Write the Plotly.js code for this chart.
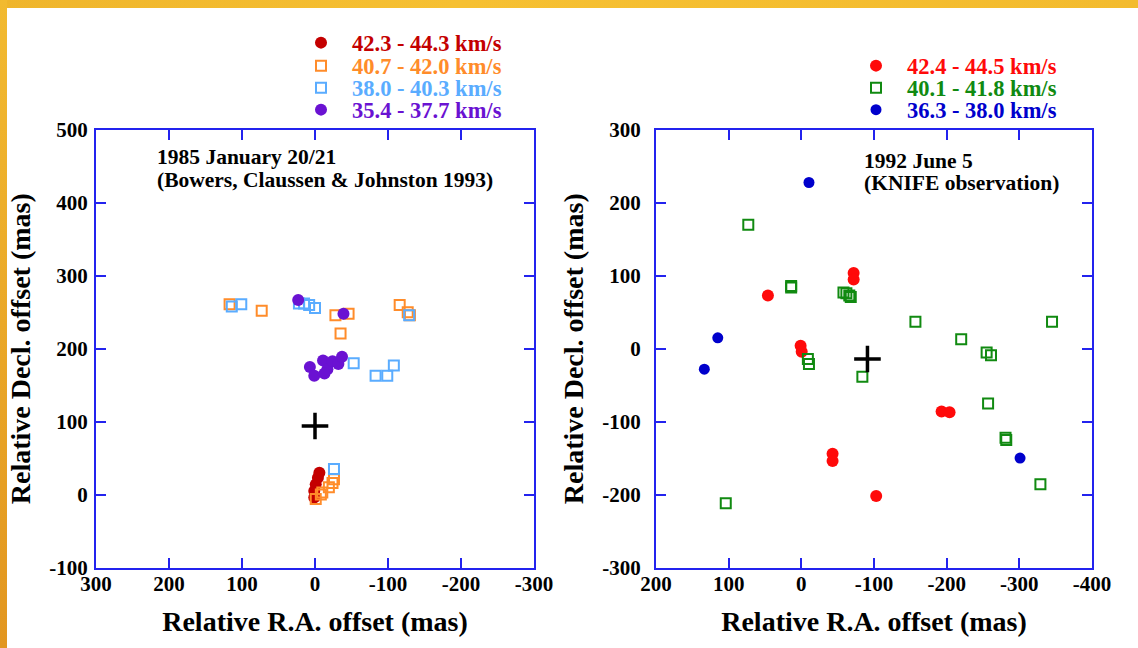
<!DOCTYPE html>
<html>
<head>
<meta charset="utf-8">
<script src="https://cdn.plot.ly/plotly-3.0.1.min.js"></script>
<style>
html,body{margin:0;padding:0;background:#fff;overflow:hidden;width:1138px;height:648px}
#topband{position:absolute;left:0;top:0;width:1138px;height:8px;background:linear-gradient(90deg,#efb52c,#f6c032 40%,#f3bb2e)}
#leftband{position:absolute;left:0;top:0;width:7px;height:648px;background:linear-gradient(180deg,#f2ba30,#e29620)}
#chart{position:absolute;left:0;top:0;width:1138px;height:648px}
</style>
</head>
<body>
<div id="topband"></div>
<div id="leftband"></div>
<div id="chart"></div>
<script>
// ---- 1985 January 20/21 (left panel) ----
const labels1985 = ["42.3 - 44.3 km/s", "40.7 - 42.0 km/s", "38.0 - 40.3 km/s", "35.4 - 37.7 km/s"];
const red1985X = [-6, -4, -1, 1, 1];
const red1985Y = [30, 23, 14, 5, -4];
const orange1985X = [117, 73, -28, -46, -35, -116, -127, -130, -1, -8, -10, -19, -24, -26];
const orange1985Y = [261, 252, 246, 248, 221, 260, 250, 246, -6, 0, 3, 10, 16, 21];
const blue1985X = [114, 101, 22, 15, 8, 0, -129, -53, -83, -99, -108, -26];
const blue1985Y = [258, 261, 262, 262, 260, 256, 246, 180, 163, 163, 177, 35];
const purple1985X = [23, -39, 7, 1, -11, -17, -13, -24, -32, -37];
const purple1985Y = [267, 248, 175, 163, 184, 172, 166, 183, 179, 189];
const center1985X = [0];
const center1985Y = [94];

// ---- 1992 June 5 (right panel) ----
const labels1992 = ["42.4 - 44.5 km/s", "40.1 - 41.8 km/s", "36.3 - 38.0 km/s"];
const red1992X = [46, -72, -72, 1, -0.5, -43, -43, -103, -193, -204];
const red1992Y = [73, 104, 95, 4, -4, -144, -154, -202, -86, -87];
const green1992X = [73, 14, 14, -58, -62, -66, -68, -9, -10.5, -84, -157, -220, -255, -261, -345, -257, -281, -282, -329, 104];
const green1992Y = [170, 86, 84, 77, 76, 73, 71, -14, -21, -38.5, 37, 13, -5, -9, 37, -75, -122, -125, -186, -212];
const blue1992X = [-10.5, 115, 133.5, -301];
const blue1992Y = [228, 15, -28, -150];
const center1992X = [-91];
const center1992Y = [-14];

const xTicks1985 = [300, 200, 100, 0, -100, -200, -300];
const yTicks1985 = [-100, 0, 100, 200, 300, 400, 500];
const xTicks1992 = [200, 100, 0, -100, -200, -300, -400];
const yTicks1992 = [-300, -200, -100, 0, 100, 200, 300];

const W = 1138, H = 648;
const SERIF = '"Liberation Serif", "Times New Roman", serif';
const frameColor = '#2323ee';
const colors = {
  red85: '#c40000', orange85: '#ff8c2a', blue85: '#5aacff', purple85: '#6a12d2',
  red92: '#ff0a0a', green92: '#118a11', blue92: '#0000cc'
};

function px(x) { return x / W; }
function py(y) { return 1 - y / H; }

function pts(x, y, name, color, symbol, size, xa, ya, legendId, lw) {
  return {
    type: 'scatter', mode: 'markers', x: x, y: y, name: name,
    xaxis: xa, yaxis: ya, legend: legendId, showlegend: true,
    marker: { color: color, symbol: symbol, size: size, line: { color: color, width: lw || 0 } },
    hoverinfo: 'x+y'
  };
}

const traces = [
  pts(red1985X, red1985Y, labels1985[0], colors.red85, 'circle', 12, 'x', 'y', 'legend'),
  pts(orange1985X, orange1985Y, labels1985[1], colors.orange85, 'square-open', 10, 'x', 'y', 'legend2', 2),
  pts(blue1985X, blue1985Y, labels1985[2], colors.blue85, 'square-open', 10, 'x', 'y', 'legend3', 2),
  pts(purple1985X, purple1985Y, labels1985[3], colors.purple85, 'circle', 12, 'x', 'y', 'legend4'),
  { type: 'scatter', mode: 'markers', x: center1985X, y: center1985Y, xaxis: 'x', yaxis: 'y', showlegend: false,
    marker: { symbol: 'cross-thin-open', size: 19, color: '#000', line: { color: '#000', width: 3.5 } }, hoverinfo: 'x+y' },
  pts(red1992X, red1992Y, labels1992[0], colors.red92, 'circle', 12, 'x2', 'y2', 'legend5'),
  pts(green1992X, green1992Y, labels1992[1], colors.green92, 'square-open', 10, 'x2', 'y2', 'legend6', 2),
  pts(blue1992X, blue1992Y, labels1992[2], colors.blue92, 'circle', 11, 'x2', 'y2', 'legend7'),
  { type: 'scatter', mode: 'markers', x: center1992X, y: center1992Y, xaxis: 'x2', yaxis: 'y2', showlegend: false,
    marker: { symbol: 'cross-thin-open', size: 19, color: '#000', line: { color: '#000', width: 3.5 } }, hoverinfo: 'x+y' }
];

const tickFont = { family: SERIF, size: 21, color: '#000', weight: 'bold' };
const titleFont = { family: SERIF, size: 28, color: '#000', weight: 'bold' };
const noteFont = { family: SERIF, size: 21.5, color: '#000', weight: 'bold' };

function axis(domain, range, ticks, anchor, titleText, standoff, labelStandoff) {
  return {
    domain: domain, range: range, anchor: anchor,
    tickmode: 'array', tickvals: ticks, ticktext: ticks.map(String),
    ticks: 'inside', ticklen: 10, tickwidth: 2, tickcolor: frameColor,
    showline: true, linecolor: frameColor, linewidth: 2, mirror: 'ticks',
    showgrid: false, zeroline: false,
    tickfont: tickFont, ticklabelstandoff: labelStandoff,
    title: { text: titleText, font: titleFont, standoff: standoff },
    automargin: false, fixedrange: true
  };
}

const xd1 = [px(96), px(534)];
const xd2 = [px(656), px(1092)];
const yd = [py(567.5), py(130)];

function legendAt(mx, my, color) {
  return {
    x: px(mx - 31), y: py(my), xanchor: 'left', yanchor: 'middle',
    bgcolor: 'rgba(0,0,0,0)', borderwidth: 0, itemwidth: 52,
    font: { family: SERIF, size: 22.5, color: color, weight: 'bold' }
  };
}

const layout = {
  width: W, height: H,
  margin: { l: 0, r: 0, t: 0, b: 0 },
  paper_bgcolor: 'rgba(0,0,0,0)',
  plot_bgcolor: '#ffffff',
  showlegend: true,
  xaxis: axis(xd1, [300, -300], xTicks1985, 'y', 'Relative R.A. offset (mas)', 17, -4),
  yaxis: axis(yd, [-100, 500], yTicks1985, 'x', 'Relative Decl. offset (mas)', 10, 2),
  xaxis2: axis(xd2, [200, -400], xTicks1992, 'y2', 'Relative R.A. offset (mas)', 17, -4),
  yaxis2: axis(yd, [-300, 300], yTicks1992, 'x2', 'Relative Decl. offset (mas)', 10, 9),
  legend: legendAt(321, 43, colors.red85),
  legend2: legendAt(321, 66, colors.orange85),
  legend3: legendAt(321, 88, colors.blue85),
  legend4: legendAt(321, 110, colors.purple85),
  legend5: legendAt(876, 66, colors.red92),
  legend6: legendAt(876, 88, colors.green92),
  legend7: legendAt(876, 110, colors.blue92),
  annotations: [
    { text: '1985 January 20/21', xref: 'paper', yref: 'paper', x: px(155), y: py(157), xanchor: 'left', yanchor: 'middle', showarrow: false, font: noteFont },
    { text: '(Bowers, Claussen &amp; Johnston 1993)', xref: 'paper', yref: 'paper', x: px(155), y: py(180), xanchor: 'left', yanchor: 'middle', showarrow: false, font: noteFont },
    { text: '1992 June 5', xref: 'paper', yref: 'paper', x: px(862), y: py(161), xanchor: 'left', yanchor: 'middle', showarrow: false, font: noteFont },
    { text: '(KNIFE observation)', xref: 'paper', yref: 'paper', x: px(862), y: py(183), xanchor: 'left', yanchor: 'middle', showarrow: false, font: noteFont }
  ]
};

Plotly.newPlot('chart', traces, layout, { displayModeBar: false, staticPlot: false });
</script>
</body>
</html>
